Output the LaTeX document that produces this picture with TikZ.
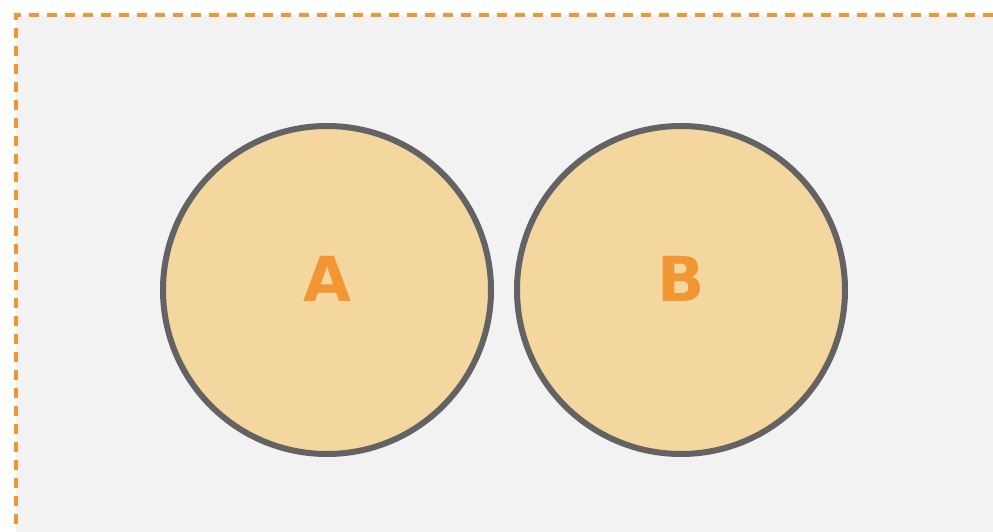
\documentclass[tikz,border=0pt]{standalone}
\usepackage{fontspec}
\setmainfont{DejaVu Sans}
\definecolor{bgray}{HTML}{F2F2F2}
\definecolor{dorange}{HTML}{F29634}
\definecolor{cfill}{HTML}{F4D69F}
\definecolor{cline}{HTML}{636363}
\begin{document}
\begin{tikzpicture}[x=1pt,y=1pt,
  circ/.style={circle,draw=cline,fill=cfill,line width=6pt,minimum size=328pt,inner sep=0pt},
  lbl/.style={text=dorange,font=\fontsize{62}{62}\selectfont\bfseries}]
\useasboundingbox (0,0) rectangle (993,532);
\fill[white] (0,0) rectangle (993,532);
\fill[bgray] (16,0) rectangle (993,517);
\draw[dorange,line width=3.5pt,dash pattern=on 10pt off 8pt] (993,517) -- (16,517) -- (16,0);
\node[circ] (a) at (327,242) {};
\node[circ] (b) at (681,242) {};
\node[lbl] (la) at (327,253) {A};
\node[lbl] (lb) at (681,253) {B};
\end{tikzpicture}
\end{document}
